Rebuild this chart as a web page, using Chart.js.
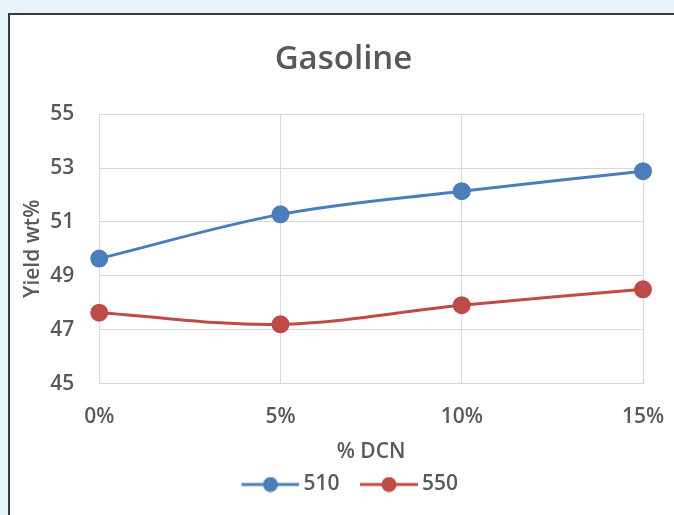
<!DOCTYPE html>
<html lang="en">
<head>
    <meta charset="UTF-8">
    <title>Gasoline</title>
    <script src="https://cdn.jsdelivr.net/npm/chart.js"></script>
    <style>
        body { margin: 0; background: #e8f4fc; width: 674px; height: 515px; overflow: hidden; position: relative; }
        #panel { position: absolute; left: 8px; top: 13px; width: 700px; height: 540px; background: #fff;
                 border-top: 2px solid #3a3a3a; border-left: 2px solid #3a3a3a; }
        #wrap { position: absolute; left: 0; top: 0; width: 674px; height: 515px; }
    </style>
</head>
<body>
    <div id="panel"></div>
    <div id="wrap"><canvas id="gasChart" width="674" height="515"></canvas></div>

    <script type="text/javascript">
        var categories = ["0%", "5%", "10%", "15%"];
        var series510 = [49.64, 51.28, 52.14, 52.88];
        var series550 = [47.63, 47.2, 47.91, 48.5];
        var yTicks = [45, 47, 49, 51, 53, 55];

        var blue = "#4a7ebb";
        var red = "#be4b48";
        var grey = "#595959";
        var font = "'Open Sans', sans-serif";

        // legend marker: line with a dot through the middle (drawn a bit right so the text sits close)
        function legendMark(color) {
            var c = document.createElement("canvas");
            c.width = 65; c.height = 16;
            var g = c.getContext("2d");
            g.strokeStyle = color; g.lineWidth = 3;
            g.beginPath(); g.moveTo(7, 8); g.lineTo(65, 8); g.stroke();
            g.fillStyle = color;
            g.beginPath(); g.arc(36, 8, 7.5, 0, Math.PI * 2); g.fill();
            return c;
        }

        // nudge title and legend to sit where the original has them
        var boxShift = {
            id: "boxShift",
            afterLayout: function(chart) {
                chart.legend.left += 18;
                chart.legend.right += 18;
                chart.titleBlock.left += 12;
                chart.titleBlock.right += 12;
            }
        };

        var ctx = document.getElementById("gasChart").getContext("2d");
        var gasChart = new Chart(ctx, {
            type: "line",
            data: {
                labels: categories,
                datasets: [{
                    label: "510",
                    data: series510,
                    borderColor: blue,
                    backgroundColor: blue,
                    borderWidth: 3,
                    pointRadius: 7.5,
                    pointHoverRadius: 7.5,
                    tension: 0.35,
                    fill: false
                }, {
                    label: "550",
                    data: series550,
                    borderColor: red,
                    backgroundColor: red,
                    borderWidth: 3,
                    pointRadius: 7.5,
                    pointHoverRadius: 7.5,
                    tension: 0.35,
                    fill: false
                }]
            },
            plugins: [boxShift],
            options: {
                responsive: false,
                animation: false,
                layout: { padding: { top: 40, left: 20, right: 31, bottom: 10 } },
                plugins: {
                    title: {
                        display: true,
                        text: "Gasoline",
                        color: grey,
                        font: { family: font, size: 33, weight: "600" },
                        padding: { top: 0, bottom: 34.5 }
                    },
                    legend: {
                        position: "bottom",
                        labels: {
                            color: grey,
                            font: { family: font, size: 21, weight: "600" },
                            usePointStyle: true,
                            pointStyleWidth: 52,
                            boxHeight: 16,
                            padding: 20,
                            generateLabels: function(chart) {
                                return chart.data.datasets.map(function(ds, i) {
                                    return {
                                        text: ds.label,
                                        pointStyle: legendMark(ds.borderColor),
                                        fillStyle: ds.borderColor,
                                        strokeStyle: ds.borderColor,
                                        lineWidth: 0,
                                        fontColor: grey,
                                        datasetIndex: i
                                    };
                                });
                            }
                        }
                    },
                    tooltip: { enabled: false }
                },
                scales: {
                    x: {
                        offset: false,
                        grid: { color: "#d9d9d9", drawTicks: true, tickLength: 21, tickColor: "rgba(0,0,0,0)" },
                        border: { display: false },
                        ticks: { color: grey, font: { family: font, size: 21, weight: "600" }, padding: 0 },
                        title: { display: true, text: "% DCN", color: grey, font: { family: font, size: 21, weight: "600" }, padding: { top: 10, bottom: -11 } }
                    },
                    y: {
                        min: 45,
                        max: 55,
                        afterBuildTicks: function(axis) {
                            axis.ticks = yTicks.map(function(v) { return { value: v }; });
                        },
                        grid: { color: "#d9d9d9", drawTicks: true, tickLength: 25, tickColor: "rgba(0,0,0,0)" },
                        border: { display: false },
                        ticks: { color: grey, font: { family: font, size: 21, weight: "600" }, padding: 0 },
                        title: { display: true, text: "Yield wt%", color: grey, font: { family: font, size: 21, weight: "600" }, padding: { top: 0, bottom: 5 } }
                    }
                }
            }
        });
    </script>
</body>
</html>
